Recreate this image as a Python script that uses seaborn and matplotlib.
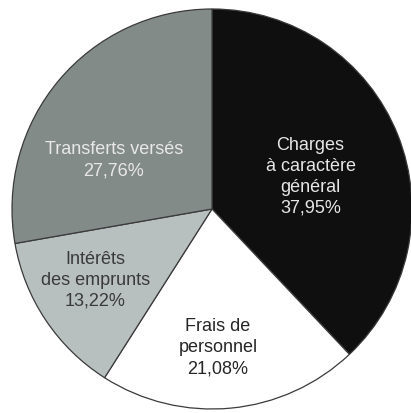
import matplotlib
matplotlib.use("Agg")
import matplotlib.pyplot as plt
import seaborn as sns
import numpy as np

# data, clockwise from 12 o'clock
labels = ["Charges\nà caractère\ngénéral", "Frais de\npersonnel", "Intérêts\ndes emprunts", "Transferts versés"]
shares = [37.95, 21.08, 13.22, 27.76]
pct_text = ["37,95%", "21,08%", "13,22%", "27,76%"]

colors = ["#0f0f0f", "#ffffff", "#b8c0bf", "#838b89"]
text_colors = ["#e6e6e6", "#262626", "#3a3a3a", "#e8e8e8"]
# label positions (radius, angle in degrees) inside each wedge
label_pos = [(0.52, 18.6), (0.69, -87.5), (0.68, -149.0), (0.55, 153.0)]

sns.set_theme(style="white")
plt.rcParams["font.family"] = ["Liberation Sans", "DejaVu Sans"]

fig = plt.figure(figsize=(4.11, 4.14), dpi=100)
ax = fig.add_axes([0, 0, 1, 1])

wedges, _ = ax.pie(shares, colors=colors, startangle=90, counterclock=False,
                   wedgeprops=dict(edgecolor="#3a3a3a", linewidth=0.9))

for lab, pct, (r, a), c in zip(labels, pct_text, label_pos, text_colors):
    x = r * np.cos(np.radians(a))
    y = r * np.sin(np.radians(a))
    ax.text(x, y, lab + "\n" + pct, ha="center", va="center", color=c,
            fontsize=13, linespacing=1.3)

ax.set_xlim(-1.06, 0.995)
ax.set_ylim(-1.02, 1.05)
ax.set_aspect("equal")
ax.axis("off")

fig.savefig("out.png", dpi=100, facecolor="white")
